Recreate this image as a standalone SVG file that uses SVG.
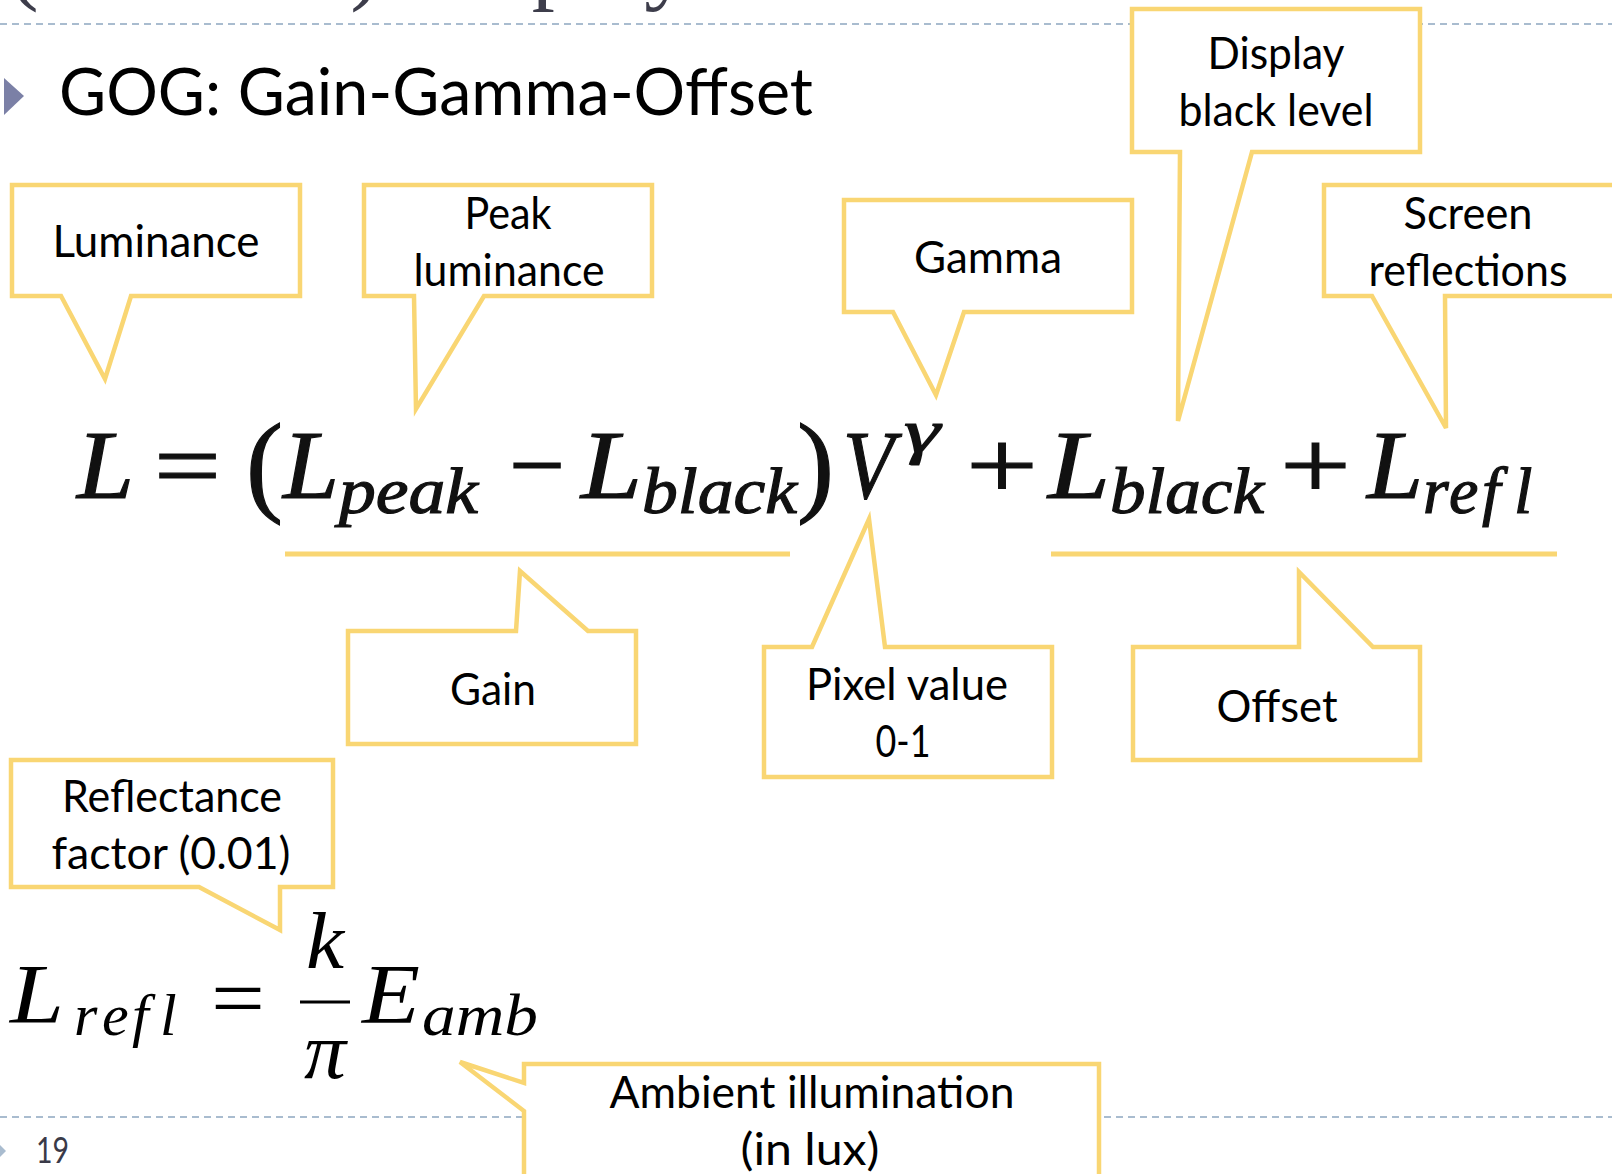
<svg xmlns="http://www.w3.org/2000/svg" width="1612" height="1174" viewBox="0 0 1612 1174">
<style>
  .bg { fill:#ffffff; }
  .dash { stroke:#a9bccf; stroke-width:2; stroke-dasharray:7 5; fill:none; }
  .co { fill:#ffffff; stroke:#f9d673; stroke-width:4.5; stroke-linejoin:miter; }
  .lbl { font-family:Lato, "Open Sans", "Liberation Sans", sans-serif; font-size:44px; fill:#000; text-anchor:middle; }
  .title { font-family:Lato, "Open Sans", "Liberation Sans", sans-serif; font-size:65px; fill:#000; }
  .m { font-family:"Liberation Serif", "DejaVu Serif", serif; font-style:italic; fill:#111; stroke:#111; stroke-width:1.2; font-variant-ligatures:none; }
  .mu { font-family:"Liberation Serif", "DejaVu Serif", serif; fill:#111; stroke:#111; stroke-width:1.2; }
  .c { font-family:"Liberation Serif", "DejaVu Serif", serif; font-style:italic; fill:#000; font-variant-ligatures:none; }
  .cu { font-family:"Liberation Serif", "DejaVu Serif", serif; fill:#000; }
  .ul { stroke:#f9d673; stroke-width:5; }
  .sh { stroke:#8a8a8a; stroke-width:6; opacity:0.7; }
</style>
<defs>
  <filter id="blur" x="-5%" y="-200%" width="110%" height="500%">
    <feGaussianBlur stdDeviation="2"/>
  </filter>
</defs>
<rect class="bg" x="0" y="0" width="1612" height="1174"/>

<g id="slide-frame">
  <text x="8" y="-7" font-family="'Liberation Serif', serif" font-size="92" fill="#3d3d4b">(Forward) Display model</text>
  <line class="dash" x1="0" y1="24" x2="1612" y2="24"/>
  <line class="dash" x1="0" y1="1117" x2="1612" y2="1117"/>
  <polygon points="4,78 24,96 4,115" fill="#7b80a6"/>
  <text class="title" x="59" y="115" textLength="754" lengthAdjust="spacingAndGlyphs">GOG: Gain-Gamma-Offset</text>
  <polygon points="0,1145 6,1151 0,1157" fill="#a9bccf"/>
  <text x="36" y="1163" font-family="Lato, 'Liberation Sans', sans-serif" font-size="36" fill="#3a3a48" textLength="33" lengthAdjust="spacingAndGlyphs">19</text>
</g>

<g id="formula-main">
  <line class="sh" x1="285" y1="560" x2="790" y2="560" filter="url(#blur)"/>
  <line class="sh" x1="1051" y1="560" x2="1557" y2="560" filter="url(#blur)"/>
  <line class="ul" x1="285" y1="554" x2="790" y2="554"/>
  <line class="ul" x1="1051" y1="554" x2="1557" y2="554"/>
  <text class="m" x="77" y="498" font-size="98" textLength="57" lengthAdjust="spacingAndGlyphs">L</text>
  <text class="mu" x="154" y="498" font-size="98" textLength="67" lengthAdjust="spacingAndGlyphs">=</text>
  <text class="mu" x="246" y="501" font-size="112" textLength="37" lengthAdjust="spacingAndGlyphs">(</text>
  <text class="m" x="283" y="498" font-size="98" textLength="56" lengthAdjust="spacingAndGlyphs">L</text>
  <text class="m" x="339" y="513" font-size="66" textLength="139" lengthAdjust="spacingAndGlyphs">peak</text>
  <text class="mu" x="509" y="498" font-size="98" textLength="56" lengthAdjust="spacingAndGlyphs">−</text>
  <text class="m" x="581" y="498" font-size="98" textLength="61" lengthAdjust="spacingAndGlyphs">L</text>
  <text class="m" x="642" y="513" font-size="66" textLength="155" lengthAdjust="spacingAndGlyphs">black</text>
  <text class="mu" x="797" y="501" font-size="112" textLength="37" lengthAdjust="spacingAndGlyphs">)</text>
  <text class="m" x="843" y="498" font-size="98" textLength="51" lengthAdjust="spacingAndGlyphs">V</text>
  <text class="m" x="904" y="452" font-size="62" textLength="36" lengthAdjust="spacingAndGlyphs">γ</text>
  <text class="mu" x="966" y="498" font-size="98" textLength="72" lengthAdjust="spacingAndGlyphs">+</text>
  <text class="m" x="1048" y="498" font-size="98" textLength="62" lengthAdjust="spacingAndGlyphs">L</text>
  <text class="m" x="1110" y="513" font-size="66" textLength="154" lengthAdjust="spacingAndGlyphs">black</text>
  <text class="mu" x="1280" y="498" font-size="98" textLength="71" lengthAdjust="spacingAndGlyphs">+</text>
  <text class="m" x="1367" y="498" font-size="98" textLength="56" lengthAdjust="spacingAndGlyphs">L</text>
  <text class="m" y="513" font-size="66"><tspan x="1423">r</tspan><tspan x="1449">e</tspan><tspan x="1482">f</tspan><tspan x="1514">l</tspan></text>
</g>

<g id="formula-refl">
  <text class="c" x="10" y="1023" font-size="84" textLength="54" lengthAdjust="spacingAndGlyphs">L</text>
  <text class="c" y="1035" font-size="60"><tspan x="74">r</tspan><tspan x="102">e</tspan><tspan x="132">f</tspan><tspan x="160">l</tspan></text>
  <text class="cu" x="211" y="1027" font-size="84" textLength="54" lengthAdjust="spacingAndGlyphs">=</text>
  <text class="c" x="306" y="968" font-size="80" textLength="38" lengthAdjust="spacingAndGlyphs">k</text>
  <line x1="300" y1="1002" x2="350" y2="1002" stroke="#000" stroke-width="3"/>
  <text class="c" x="304" y="1078" font-size="80" textLength="42" lengthAdjust="spacingAndGlyphs">π</text>
  <text class="c" x="362" y="1023" font-size="84" textLength="58" lengthAdjust="spacingAndGlyphs">E</text>
  <text class="c" x="422" y="1035" font-size="60" textLength="116" lengthAdjust="spacingAndGlyphs">amb</text>
</g>

<g id="callout-luminance">
  <path class="co" d="M12,185 H300 V296 H131 L105,379 L61,296 H12 Z"/>
  <text class="lbl" x="156" y="257" textLength="207" lengthAdjust="spacingAndGlyphs">Luminance</text>
</g>

<g id="callout-peak">
  <path class="co" d="M364,185 H652 V296 H484 L416,409 L414,296 H364 Z"/>
  <text class="lbl" x="508" y="229" textLength="87" lengthAdjust="spacingAndGlyphs">Peak</text>
  <text class="lbl" x="509" y="286" textLength="191" lengthAdjust="spacingAndGlyphs">luminance</text>
</g>

<g id="callout-gamma">
  <path class="co" d="M844,200 H1132 V312 H964 L936,395 L893,312 H844 Z"/>
  <text class="lbl" x="988" y="273" textLength="148" lengthAdjust="spacingAndGlyphs">Gamma</text>
</g>

<g id="callout-display">
  <path class="co" d="M1132,9 H1420 V152 H1252 L1178,421 L1180,152 H1132 Z"/>
  <text class="lbl" x="1276" y="69" textLength="137" lengthAdjust="spacingAndGlyphs">Display</text>
  <text class="lbl" x="1276" y="126" textLength="195" lengthAdjust="spacingAndGlyphs">black level</text>
</g>

<g id="callout-screen">
  <path class="co" d="M1324,185 H1620 V296 H1445 L1446,428 L1372,296 H1324 Z"/>
  <text class="lbl" x="1468" y="229" textLength="129" lengthAdjust="spacingAndGlyphs">Screen</text>
  <text class="lbl" x="1468" y="286" textLength="199" lengthAdjust="spacingAndGlyphs">reflections</text>
</g>

<g id="callout-gain">
  <path class="co" d="M348,631 H516 L520,571 L588,631 H636 V744 H348 Z"/>
  <text class="lbl" x="493" y="705" textLength="86" lengthAdjust="spacingAndGlyphs">Gain</text>
</g>

<g id="callout-pixel">
  <path class="co" d="M764,647 H812 L869,519 L885,647 H1052 V777 H764 Z"/>
  <text class="lbl" x="907" y="700" textLength="202" lengthAdjust="spacingAndGlyphs">Pixel value</text>
  <text class="lbl" x="903" y="757" textLength="55" lengthAdjust="spacingAndGlyphs">0-1</text>
</g>

<g id="callout-offset">
  <path class="co" d="M1133,647 H1299 L1299,572 L1373,647 H1420 V760 H1133 Z"/>
  <text class="lbl" x="1277" y="722" textLength="121" lengthAdjust="spacingAndGlyphs">Offset</text>
</g>

<g id="callout-reflectance">
  <path class="co" d="M11,760 H333 V887 H280 L280,930 L199,887 H11 Z"/>
  <text class="lbl" x="172" y="812" textLength="220" lengthAdjust="spacingAndGlyphs">Reflectance</text>
  <text class="lbl" x="171" y="869" textLength="239" lengthAdjust="spacingAndGlyphs">factor (0.01)</text>
</g>

<g id="callout-ambient">
  <path class="co" d="M524,1064 H1099 V1190 H524 V1111 L460,1062 L524,1083 Z"/>
  <text class="lbl" x="812" y="1108" textLength="405" lengthAdjust="spacingAndGlyphs">Ambient illumination</text>
  <text class="lbl" x="810" y="1165" textLength="139" lengthAdjust="spacingAndGlyphs">(in lux)</text>
</g>
</svg>
